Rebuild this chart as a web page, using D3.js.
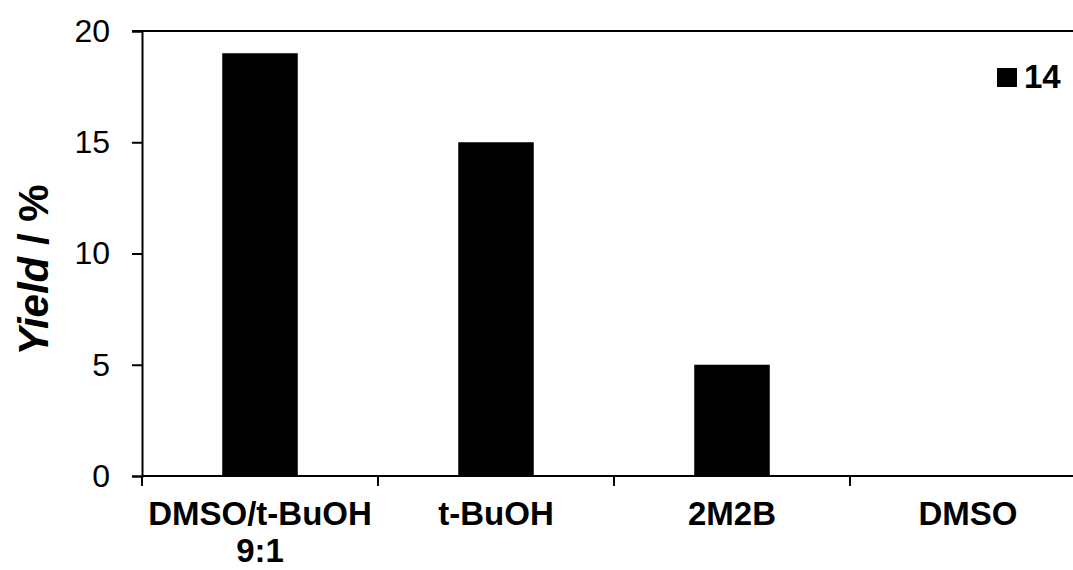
<!DOCTYPE html>
<html>
<head>
<meta charset="utf-8">
<script src="https://cdn.jsdelivr.net/npm/d3@7"></script>
<style>
  body { margin: 0; background: #fff; }
  svg { display: block; font-family: Arial, "Liberation Sans", sans-serif; }
</style>
</head>
<body>
<svg id="chart" width="1073" height="570"></svg>
<script>
const categories = [["DMSO/t-BuOH", "9:1"], ["t-BuOH"], ["2M2B"], ["DMSO"]];
const yields = [19, 15, 5, 0];
const yTicks = [0, 5, 10, 15, 20];
const seriesName = "14";

const svg = d3.select("#chart");
const x0 = 142, xEnd = 142 + 4 * 236;
const yTop = 31, yBottom = 476;

const x = d3.scaleBand()
  .domain(d3.range(categories.length))
  .range([x0, xEnd])
  .paddingInner(0.68)
  .paddingOuter(0.34);

const y = d3.scaleLinear().domain([0, 20]).range([yBottom, yTop]);

// bars
svg.append("g").selectAll("rect")
  .data(yields)
  .join("rect")
  .attr("x", (d, i) => x(i))
  .attr("y", d => y(d))
  .attr("width", x.bandwidth())
  .attr("height", d => yBottom - y(d))
  .attr("fill", "#000");

// top border line
svg.append("line")
  .attr("x1", x0 - 10).attr("x2", 1073)
  .attr("y1", yTop).attr("y2", yTop)
  .attr("stroke", "#000").attr("stroke-width", 2);

// y axis
const yAxis = svg.append("g")
  .attr("transform", `translate(${x0},0)`)
  .call(d3.axisLeft(y).tickValues(yTicks).tickSize(10).tickPadding(22));
yAxis.select(".domain").attr("stroke-width", 2);
yAxis.selectAll(".tick line").attr("stroke-width", 2);
yAxis.selectAll(".tick text")
  .attr("font-size", 32)
  .attr("font-family", "Arial, 'Liberation Sans', sans-serif")
  .attr("fill", "#000");

// x axis (category boundary ticks)
const step = x.step();
const bounds = d3.range(categories.length + 1).map(i => x0 + i * step);
svg.append("line")
  .attr("x1", x0).attr("x2", 1073)
  .attr("y1", yBottom).attr("y2", yBottom)
  .attr("stroke", "#000").attr("stroke-width", 2);
svg.append("g").selectAll("line")
  .data(bounds)
  .join("line")
  .attr("x1", d => d).attr("x2", d => d)
  .attr("y1", yBottom).attr("y2", yBottom + 10)
  .attr("stroke", "#000").attr("stroke-width", 2);

// category labels
const labels = svg.append("g")
  .attr("font-size", 33)
  .attr("font-weight", "bold")
  .attr("text-anchor", "middle")
  .selectAll("text")
  .data(categories)
  .join("text")
  .attr("transform", (d, i) => `translate(${x(i) + x.bandwidth() / 2},525)`);
labels.selectAll("tspan")
  .data(d => d)
  .join("tspan")
  .attr("x", 0)
  .attr("dy", (d, i) => i === 0 ? 0 : 37)
  .text(d => d);

// y axis title
const title = svg.append("text")
  .attr("transform", "translate(48,270) rotate(-90)")
  .attr("text-anchor", "middle")
  .attr("font-size", 42)
  .attr("font-weight", "bold");
title.append("tspan").attr("font-style", "italic").text("Yield");
title.append("tspan").text(" / %");

// legend
svg.append("rect")
  .attr("x", 997).attr("y", 68)
  .attr("width", 20).attr("height", 19)
  .attr("fill", "#000");
svg.append("text")
  .attr("x", 1024).attr("y", 88)
  .attr("font-size", 33)
  .attr("font-weight", "bold")
  .text(seriesName);
</script>
</body>
</html>
